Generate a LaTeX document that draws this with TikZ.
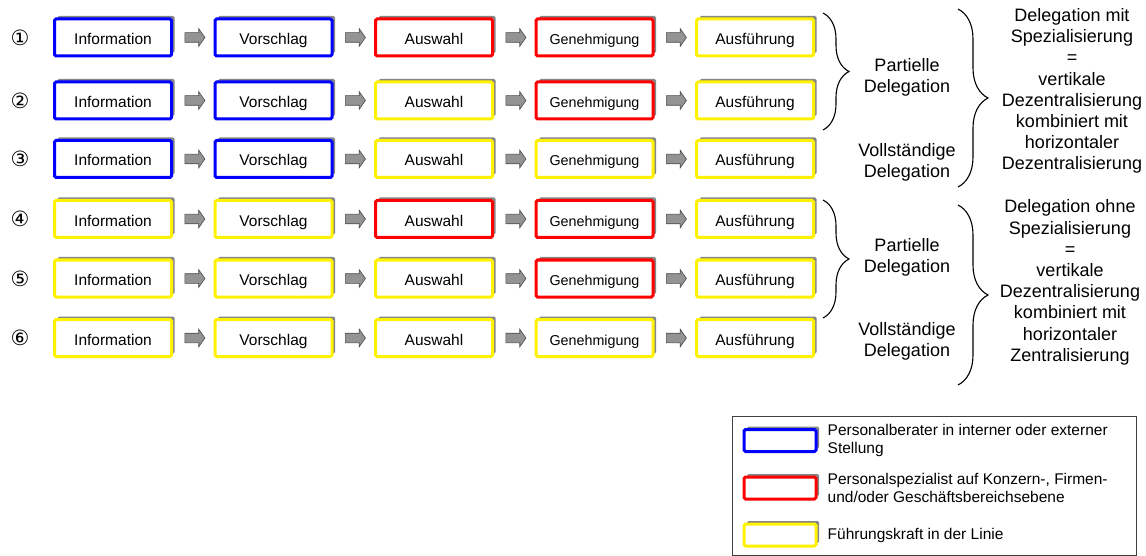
\documentclass[tikz,border=0pt]{standalone}
\usepackage{fontspec}
\setmainfont{Liberation Sans}
\newfontfamily\circfont{DejaVu Sans}
\usepackage{tikz}
\usetikzlibrary{positioning, calc, shadows, shapes.arrows, decorations.pathreplacing}

\begin{document}
\begin{tikzpicture}[
  x=1pt, y=-1pt,
  stage/.style={draw=#1, line width=3pt, fill=white, rounded corners=1.5pt,
                minimum width=117pt, minimum height=37pt, inner sep=0pt,
                text height=14pt, text depth=0pt,
                font=\fontsize{15.5}{18}\selectfont,
                drop shadow={shadow xshift=3pt, shadow yshift=3pt, fill=gray!95, opacity=1}},
  swatch/.style={stage=#1, minimum width=72pt, minimum height=22pt},
  blockarr/.style={single arrow, draw=black!70, fill=gray!85, line width=0.6pt,
                   minimum height=20pt, inner xsep=0pt, inner ysep=4.5pt,
                   single arrow head extend=4pt, single arrow tip angle=110},
  num/.style={font=\circfont\fontsize{21}{21}\selectfont, inner sep=0pt},
  note/.style={align=center, font=\fontsize{18}{21.2}\selectfont, inner sep=0pt},
  legtext/.style={align=left, font=\fontsize{15.5}{17.5}\selectfont, inner sep=0pt},
  curly/.style={decorate, decoration={brace, amplitude=#1}, line width=1.1pt},
]
\useasboundingbox (0,0) rectangle (1146,556);

% --- six process chains: who carries which step ---
\foreach \r/\y/\ca/\cb/\cc/\cd/\ce/\mark in {
    1/37.5/blue/blue/red/red/yellow/①,
    2/100.5/blue/blue/yellow/red/yellow/②,
    3/159/blue/blue/yellow/yellow/yellow/③,
    4/219/yellow/yellow/red/red/yellow/④,
    5/278.5/yellow/yellow/yellow/red/yellow/⑤,
    6/338/yellow/yellow/yellow/yellow/yellow/⑥} {
  \node[num] (n\r) at (20,\y) {\mark};
  \node[stage=\ca] (b\r-1) at (113,\y) {Information};
  \node[stage=\cb] (b\r-2) at (273.5,\y) {Vorschlag};
  \node[stage=\cc] (b\r-3) at (434,\y) {Auswahl};
  \node[stage=\cd, font=\fontsize{14.3}{17}\selectfont] (b\r-4) at (594.5,\y) {Genehmigung};
  \node[stage=\ce] (b\r-5) at (755,\y) {Ausführung};
  \foreach \c [evaluate=\c as \n using int(\c+1)] in {1,...,4}
    \node[blockarr] (a\r-\c) at ($(b\r-\c.east)!0.5!(b\r-\n.west)$) {};
}

% --- upper group: with specialisation ---
\coordinate (pA1) at (823,13);   \coordinate (pA2) at (823,130);
\coordinate (gA1) at (958,9);    \coordinate (gA2) at (958,187);
\draw[curly=26pt] (pA1) -- (pA2);
\draw[curly=30pt] (gA1) -- (gA2);
\node[note] (part1) at (907,77) {Partielle\\Delegation};
\node[note] (voll1) at (907,162) {Vollständige\\Delegation};
\node[note] (spez1) at (1072,91)
  {Delegation mit\\Spezialisierung\\=\\vertikale\\Dezentralisierung\\kombiniert mit\\horizontaler\\Dezentralisierung};

% --- lower group: without specialisation ---
\coordinate (pB1) at (823,200);  \coordinate (pB2) at (823,318);
\coordinate (gB1) at (958,205);  \coordinate (gB2) at (958,385);
\draw[curly=26pt] (pB1) -- (pB2);
\draw[curly=30pt] (gB1) -- (gB2);
\node[note] (part2) at (907,257) {Partielle\\Delegation};
\node[note] (voll2) at (907,341) {Vollständige\\Delegation};
\node[note] (spez2) at (1070,282.5)
  {Delegation ohne\\Spezialisierung\\=\\vertikale\\Dezentralisierung\\kombiniert mit\\horizontaler\\Zentralisierung};

% --- legend ---
\node[draw=black!75, line width=0.8pt, minimum width=404pt, minimum height=139pt,
      inner sep=0pt] (legend) at (934,485.5) {};
\node[swatch=blue] (kB) at (780,440.5) {};
\node[swatch=red] (kR) at (780,488) {};
\node[swatch=yellow] (kY) at (780,535) {};
\node[legtext, right=10pt of kB] (tB) {Personalberater in interner oder externer\\Stellung};
\node[legtext, right=10pt of kR] (tR) {Personalspezialist auf Konzern-, Firmen-\\und/oder Geschäftsbereichsebene};
\node[legtext, right=10pt of kY] (tY) {Führungskraft in der Linie};

\end{tikzpicture}
\end{document}
